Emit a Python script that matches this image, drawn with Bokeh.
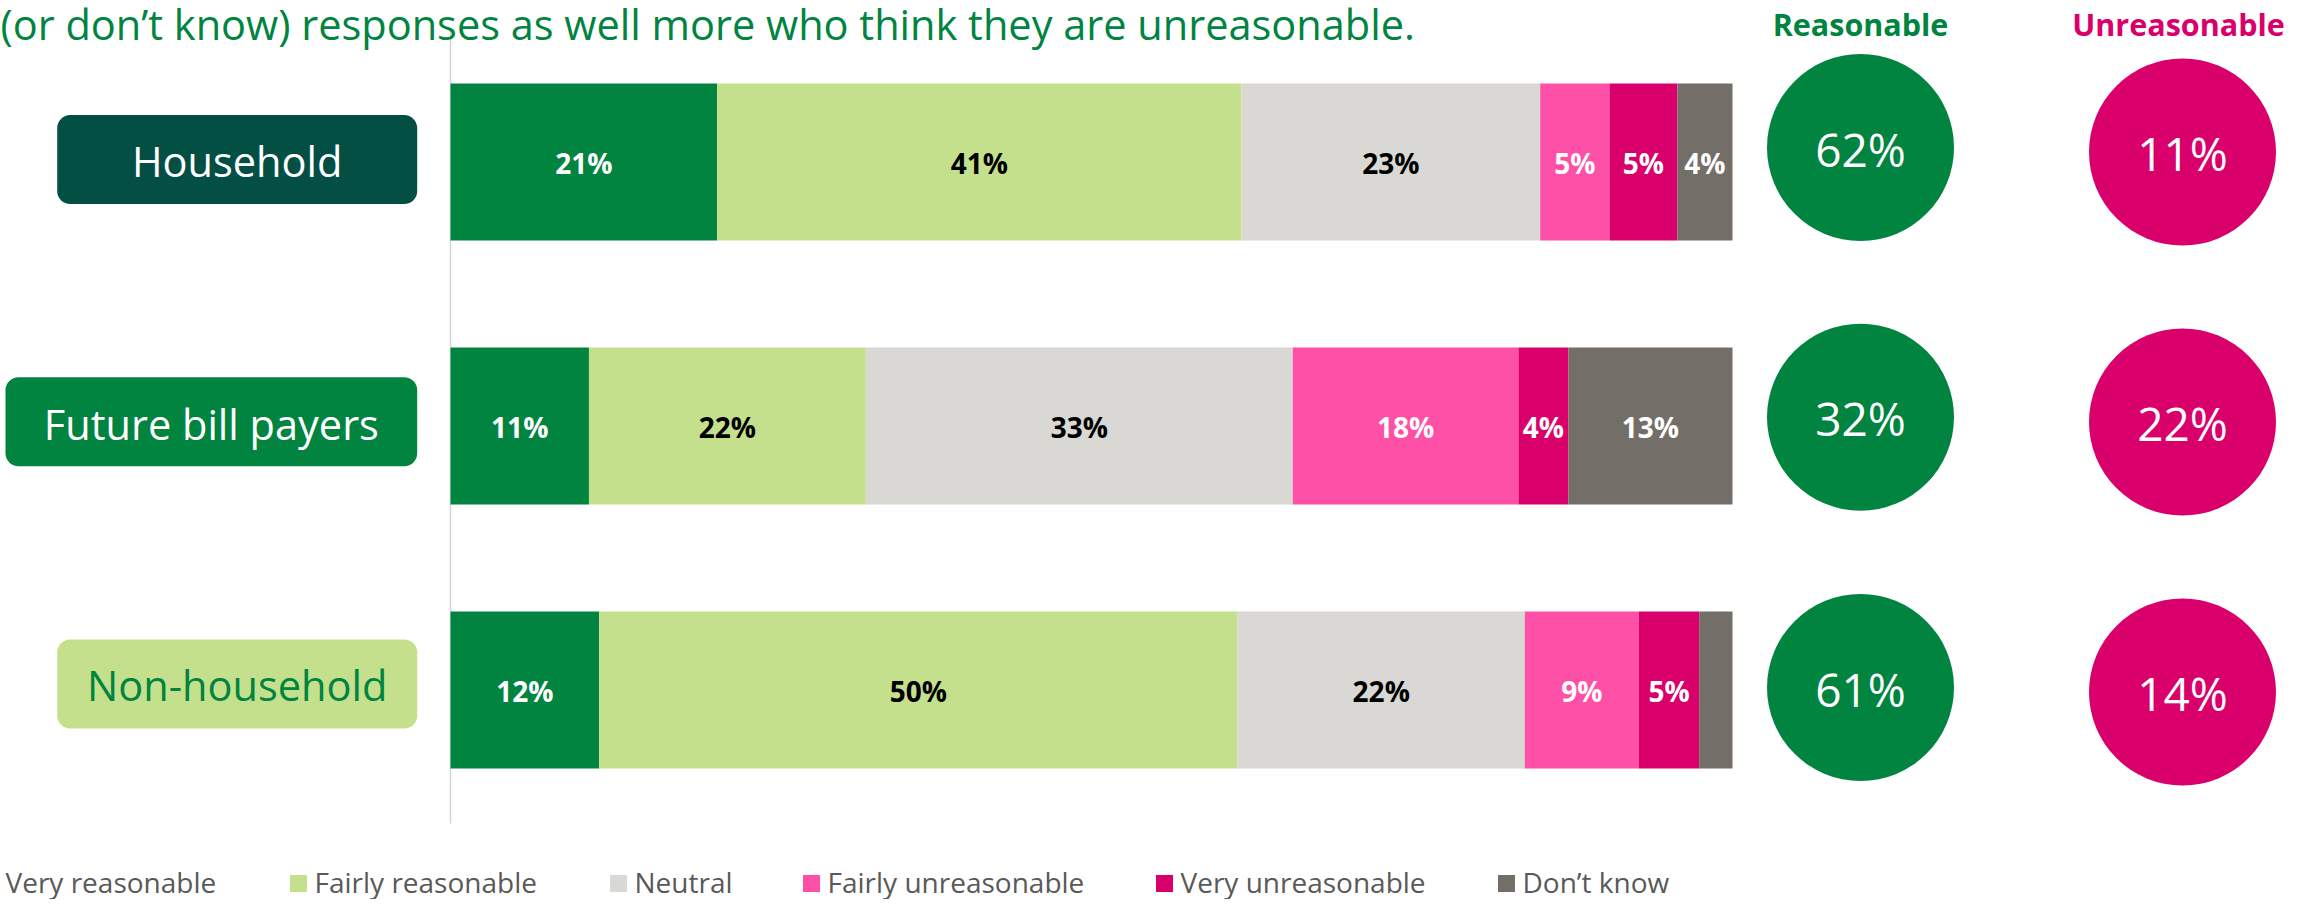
from bokeh.plotting import figure
from bokeh.models import Range1d, ColumnDataSource
from bokeh.core.properties import value
from bokeh.embed import file_html
from bokeh.resources import INLINE

# ---------------- data ----------------
groups = ["Household", "Future bill payers", "Non-household"]
categories = ["Very reasonable", "Fairly reasonable", "Neutral",
              "Fairly unreasonable", "Very unreasonable", "Don\u2019t know"]
very_reasonable = [20.8, 10.8, 11.6]
fairly_reasonable = [40.9, 21.6, 49.8]
neutral = [23.3, 33.3, 22.4]
fairly_unreasonable = [5.4, 17.6, 8.9]
very_unreasonable = [5.3, 3.9, 4.7]
dont_know = [4.3, 12.8, 2.6]
reasonable_total = [62, 32, 61]
unreasonable_total = [11, 22, 14]
header_labels = ["Reasonable", "Unreasonable"]
title_text = "(or don\u2019t know) responses as well more who think they are unreasonable."

# ---------------- styles ----------------
seg_colors = ["#00843F", "#C5E08C", "#D9D8D5", "#FF50A8", "#D9006C", "#736E67"]
seg_text_colors = ["white", "black", "black", "white", "white", "white"]
box_fill = ["#034F43", "#00843F", "#C5E08C"]
box_text = ["white", "white", "#00843F"]
GREEN = "#00843F"
PINK = "#D9006C"
FONT = value("Open Sans")

W, H = 2296, 899
X0, SX = 450.0, 12.82      # px of 0 %, px per %
Y0, SY = 161.4, 264.0      # px of first row centre, px per row


def xd(px):
    return (px - X0) / SX


def yd(px):
    return (px - Y0) / SY


p = figure(width=W, height=H,
           x_range=Range1d((0 - X0) / SX, (W - X0) / SX),
           y_range=Range1d((H - Y0) / SY, (0 - Y0) / SY),
           x_axis_type=None, y_axis_type=None,
           output_backend="svg", toolbar_location=None,
           min_border=0, outline_line_color=None,
           background_fill_color="white", border_fill_color="white")
p.grid.grid_line_color = None

# ---------------- stacked bars ----------------
series = [very_reasonable, fairly_reasonable, neutral,
          fairly_unreasonable, very_unreasonable, dont_know]
rows = {"y": [], "left": [], "right": [], "mid": [], "color": [],
        "label": [], "tcolor": []}
for gi in range(len(groups)):
    cum = 0.0
    for si, s in enumerate(series):
        v = s[gi]
        rows["y"].append(gi)
        rows["left"].append(cum)
        rows["right"].append(cum + v)
        rows["mid"].append(cum + v / 2)
        rows["color"].append(seg_colors[si])
        rows["label"].append(f"{round(v)}%" if v >= 3 else "")
        rows["tcolor"].append(seg_text_colors[si])
        cum += v
src = ColumnDataSource(rows)

# vertical separator line
p.segment(x0=[0], y0=[yd(29)], x1=[0], y1=[yd(823)],
          line_color="#D4D4D4", line_width=1.5)

p.hbar(y="y", left="left", right="right", height=157 / SY,
       fill_color="color", line_color=None, source=src)
p.text(x="mid", y="y", text="label", text_color="tcolor", source=src,
       text_font=FONT, text_font_style="bold", text_font_size="28px",
       text_align="center", text_baseline="alphabetic", y_offset=1)

# ---------------- group label boxes ----------------
box_left = [56.7, 5.0, 56.7]
box_right = [416.7, 416.7, 416.7]
box_top = [114.6, 376.8, 639.0]
box_bottom = [203.6, 465.8, 728.0]
box_src = ColumnDataSource(dict(
    left=[xd(v) for v in box_left], right=[xd(v) for v in box_right],
    top=[yd(v) for v in box_top], bottom=[yd(v) for v in box_bottom],
    fill=box_fill, tc=box_text, name=groups,
    tx=[xd((a + b) / 2) for a, b in zip(box_left, box_right)],
    ty=[yd(v) for v in [160, 423, 684]]))
p.quad(left="left", right="right", top="top", bottom="bottom",
       fill_color="fill", line_color=None, border_radius=13, source=box_src)
p.text(x="tx", y="ty", text="name", text_color="tc", source=box_src,
       text_font=FONT, text_font_size="41.5px",
       text_align="center", text_baseline="alphabetic")

# ---------------- summary circles ----------------
green_y = [147.0, 416.7, 687.0]
pink_y = [151.5, 421.5, 691.5]
circ_src = ColumnDataSource(dict(
    x=[xd(1860)] * 3 + [xd(2182)] * 3,
    y=[yd(v) for v in green_y] + [yd(v) for v in pink_y],
    color=[GREEN] * 3 + [PINK] * 3,
    label=[f"{v}%" for v in reasonable_total] + [f"{v}%" for v in unreasonable_total]))
p.scatter(x="x", y="y", marker="circle", size=187, fill_color="color",
          line_color=None, source=circ_src)
p.text(x="x", y="y", text="label", source=circ_src, text_color="white",
       text_font=FONT, text_font_size="46px",
       text_align="center", text_baseline="alphabetic", y_offset=1)

# headers
p.text(x=[xd(1860), xd(2178)], y=[yd(23.5), yd(23.5)], text=header_labels,
       text_color=[GREEN, PINK], text_font=FONT, text_font_style="bold",
       text_font_size="30.5px", text_align="center", text_baseline="alphabetic")

# ---------------- title line ----------------
p.text(x=[xd(0)], y=[yd(23)], text=[title_text], text_color=GREEN,
       text_font=FONT, text_font_size="41.5px",
       text_align="left", text_baseline="alphabetic")

# ---------------- legend ----------------
leg_text_x = [5, 314, 634, 827, 1180, 1522]
p.scatter(x=[xd(v - 16) for v in leg_text_x], y=[yd(883)] * 6,
          marker="square", size=17, fill_color=seg_colors, line_color=None)
p.text(x=[xd(v) for v in leg_text_x], y=[yd(881)] * 6, text=categories,
       text_color="#595959", text_font=FONT, text_font_size="28px",
       text_align="left", text_baseline="alphabetic")

open("out.html", "w").write(file_html(p, INLINE))
